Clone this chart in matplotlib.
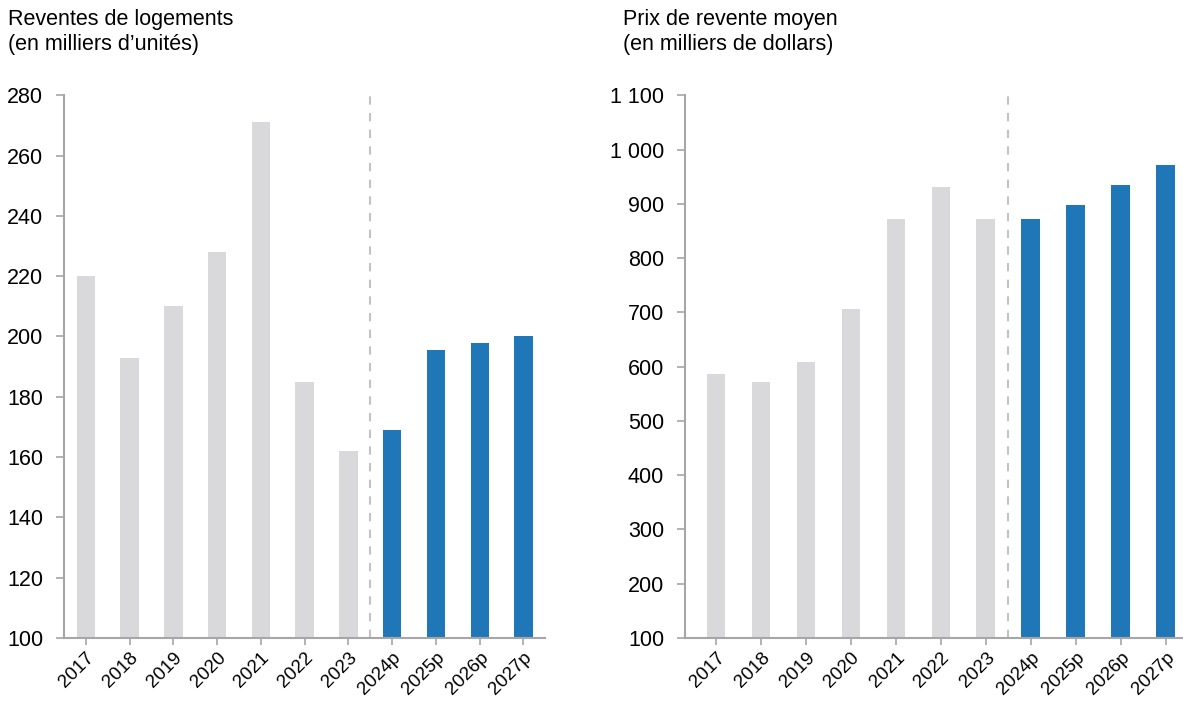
import matplotlib
matplotlib.use('Agg')
import matplotlib.pyplot as plt
from matplotlib.ticker import FuncFormatter

# --- Data ---
years = ["2017", "2018", "2019", "2020", "2021", "2022", "2023",
         "2024p", "2025p", "2026p", "2027p"]
resales = [220, 193, 210, 228, 271, 185, 162, 169, 195.5, 198, 200]
avg_price = [586, 571, 608, 706, 872, 931, 872, 872, 897, 934, 971]
n_actual = 7

GREY = "#d9d9db"
BLUE = "#2077b8"
SPINE = "#a6a6a8"

plt.rcParams['font.family'] = ['Liberation Sans Narrow', 'Liberation Sans', 'DejaVu Sans']

fig = plt.figure(figsize=(11.83, 7.11), dpi=100)


def space_thousands(v, pos):
    return f"{int(v):,}".replace(",", " ")


def draw_panel(ax, values, ylim, step, xlim):
    colors = [GREY] * n_actual + [BLUE] * (len(values) - n_actual)
    x = list(range(len(values)))
    base = ylim[0]
    ax.bar(x, [v - base for v in values], bottom=base, width=0.42, color=colors, zorder=2)
    ax.axvline(n_actual - 0.5, color="#c3c3c7", lw=1.5, ls=(0, (4, 4)), zorder=1)
    ax.set_ylim(*ylim)
    ax.set_xlim(*xlim)
    ax.set_yticks(range(ylim[0], ylim[1] + 1, step))
    ax.yaxis.set_major_formatter(FuncFormatter(space_thousands))
    ax.set_xticks(x)
    ax.set_xticklabels(years, rotation=45, ha="right", rotation_mode="anchor", fontsize=13.5)
    for s in ["top", "right"]:
        ax.spines[s].set_visible(False)
    for s in ["left", "bottom"]:
        ax.spines[s].set_color(SPINE)
        ax.spines[s].set_linewidth(1.5)
    ax.tick_params(axis="y", labelsize=15.5, length=6, color=SPINE, width=1.2, pad=9)
    ax.tick_params(axis="x", length=5, color=SPINE, width=1.2, pad=3)


ax1 = fig.add_axes([0.054, 0.1027, 0.407, 0.7633])
draw_panel(ax1, resales, (100, 280), 20, (-0.5, 10.5))

ax2 = fig.add_axes([0.579, 0.1027, 0.421, 0.7633])
draw_panel(ax2, avg_price, (100, 1100), 100, (-0.69, 10.38))

fig.text(0.007, 0.988, "Reventes de logements\n(en milliers d\u2019unités)",
         fontsize=15.5, va="top", ha="left", linespacing=1.3)
fig.text(0.527, 0.988, "Prix de revente moyen\n(en milliers de dollars)",
         fontsize=15.5, va="top", ha="left", linespacing=1.3)

fig.savefig("out.png", dpi=100)
